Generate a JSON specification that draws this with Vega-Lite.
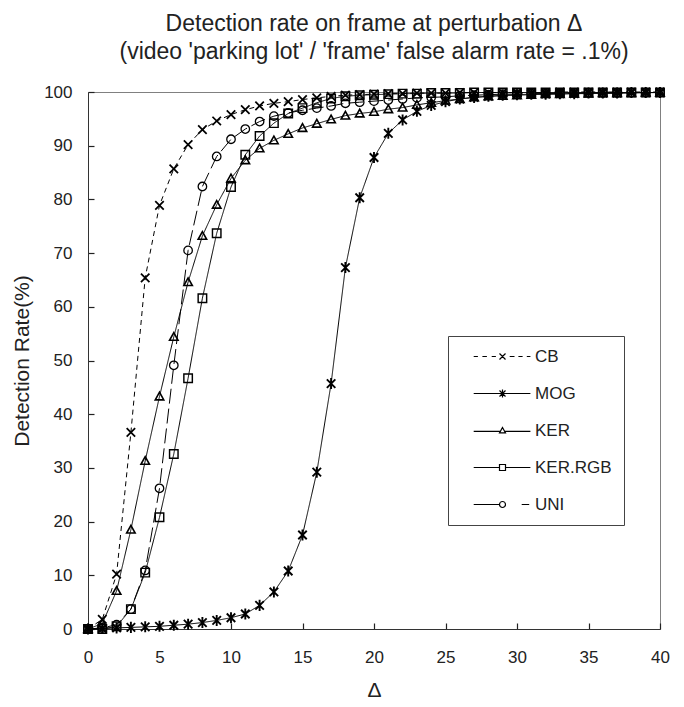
{
  "$schema": "https://vega.github.io/schema/vega-lite/v6.json",
  "width": 572,
  "height": 537,
  "autosize": {"type": "none"},
  "padding": {"left": 88, "top": 92, "right": 24, "bottom": 78},
  "background": "white",
  "config": {
    "font": "Liberation Sans",
    "view": {"stroke": "#808080", "strokeWidth": 1},
    "axis": {
      "labelFont": "Liberation Sans",
      "labelFontSize": 17,
      "labelColor": "#222",
      "labelFlush": false,
      "titleFont": "Liberation Sans",
      "titleFontWeight": "normal",
      "titleColor": "#222",
      "domainColor": "#333"
    }
  },
  "title": {
    "text": ["Detection rate on frame at perturbation Δ", "(video 'parking lot' / 'frame' false alarm rate = .1%)"],
    "font": "Liberation Sans",
    "fontSize": 23,
    "fontWeight": "normal",
    "color": "#222",
    "lineHeight": 28,
    "anchor": "middle",
    "offset": 19
  },
  "datasets": {
    "curves": [
      {"series":"CB","delta":0,"rate":0},{"series":"CB","delta":1,"rate":1.8},{"series":"CB","delta":2,"rate":10.2},{"series":"CB","delta":3,"rate":36.6},{"series":"CB","delta":4,"rate":65.4},{"series":"CB","delta":5,"rate":78.9},{"series":"CB","delta":6,"rate":85.7},{"series":"CB","delta":7,"rate":90.2},{"series":"CB","delta":8,"rate":93.0},{"series":"CB","delta":9,"rate":94.6},{"series":"CB","delta":10,"rate":95.8},{"series":"CB","delta":11,"rate":96.7},{"series":"CB","delta":12,"rate":97.4},{"series":"CB","delta":13,"rate":97.9},{"series":"CB","delta":14,"rate":98.2},{"series":"CB","delta":15,"rate":98.6},{"series":"CB","delta":16,"rate":98.9},{"series":"CB","delta":17,"rate":99.2},{"series":"CB","delta":18,"rate":99.4},{"series":"CB","delta":19,"rate":99.5},{"series":"CB","delta":20,"rate":99.6},{"series":"CB","delta":21,"rate":99.7},{"series":"CB","delta":22,"rate":99.7},{"series":"CB","delta":23,"rate":99.8},{"series":"CB","delta":24,"rate":99.8},{"series":"CB","delta":25,"rate":99.8},{"series":"CB","delta":26,"rate":99.9},{"series":"CB","delta":27,"rate":99.9},{"series":"CB","delta":28,"rate":99.9},{"series":"CB","delta":29,"rate":99.9},{"series":"CB","delta":30,"rate":99.9},{"series":"CB","delta":31,"rate":99.9},{"series":"CB","delta":32,"rate":99.9},{"series":"CB","delta":33,"rate":100},{"series":"CB","delta":34,"rate":100},{"series":"CB","delta":35,"rate":100},{"series":"CB","delta":36,"rate":100},{"series":"CB","delta":37,"rate":100},{"series":"CB","delta":38,"rate":100},{"series":"CB","delta":39,"rate":100},{"series":"CB","delta":40,"rate":100},
      {"series":"MOG","delta":0,"rate":0},{"series":"MOG","delta":1,"rate":0.1},{"series":"MOG","delta":2,"rate":0.2},{"series":"MOG","delta":3,"rate":0.3},{"series":"MOG","delta":4,"rate":0.4},{"series":"MOG","delta":5,"rate":0.5},{"series":"MOG","delta":6,"rate":0.7},{"series":"MOG","delta":7,"rate":0.9},{"series":"MOG","delta":8,"rate":1.2},{"series":"MOG","delta":9,"rate":1.6},{"series":"MOG","delta":10,"rate":2.1},{"series":"MOG","delta":11,"rate":2.8},{"series":"MOG","delta":12,"rate":4.4},{"series":"MOG","delta":13,"rate":6.9},{"series":"MOG","delta":14,"rate":10.8},{"series":"MOG","delta":15,"rate":17.5},{"series":"MOG","delta":16,"rate":29.2},{"series":"MOG","delta":17,"rate":45.7},{"series":"MOG","delta":18,"rate":67.3},{"series":"MOG","delta":19,"rate":80.3},{"series":"MOG","delta":20,"rate":87.8},{"series":"MOG","delta":21,"rate":92.3},{"series":"MOG","delta":22,"rate":94.8},{"series":"MOG","delta":23,"rate":96.4},{"series":"MOG","delta":24,"rate":97.5},{"series":"MOG","delta":25,"rate":98.2},{"series":"MOG","delta":26,"rate":98.7},{"series":"MOG","delta":27,"rate":99.0},{"series":"MOG","delta":28,"rate":99.2},{"series":"MOG","delta":29,"rate":99.4},{"series":"MOG","delta":30,"rate":99.5},{"series":"MOG","delta":31,"rate":99.6},{"series":"MOG","delta":32,"rate":99.6},{"series":"MOG","delta":33,"rate":99.7},{"series":"MOG","delta":34,"rate":99.7},{"series":"MOG","delta":35,"rate":99.8},{"series":"MOG","delta":36,"rate":99.8},{"series":"MOG","delta":37,"rate":99.8},{"series":"MOG","delta":38,"rate":99.9},{"series":"MOG","delta":39,"rate":99.9},{"series":"MOG","delta":40,"rate":99.9},
      {"series":"KER","delta":0,"rate":0},{"series":"KER","delta":1,"rate":1.0},{"series":"KER","delta":2,"rate":7.1},{"series":"KER","delta":3,"rate":18.5},{"series":"KER","delta":4,"rate":31.3},{"series":"KER","delta":5,"rate":43.3},{"series":"KER","delta":6,"rate":54.4},{"series":"KER","delta":7,"rate":64.6},{"series":"KER","delta":8,"rate":73.2},{"series":"KER","delta":9,"rate":79.0},{"series":"KER","delta":10,"rate":83.9},{"series":"KER","delta":11,"rate":87.3},{"series":"KER","delta":12,"rate":89.5},{"series":"KER","delta":13,"rate":91.0},{"series":"KER","delta":14,"rate":92.2},{"series":"KER","delta":15,"rate":93.3},{"series":"KER","delta":16,"rate":94.1},{"series":"KER","delta":17,"rate":94.9},{"series":"KER","delta":18,"rate":95.6},{"series":"KER","delta":19,"rate":96.0},{"series":"KER","delta":20,"rate":96.3},{"series":"KER","delta":21,"rate":96.8},{"series":"KER","delta":22,"rate":97.1},{"series":"KER","delta":23,"rate":97.6},{"series":"KER","delta":24,"rate":98.0},{"series":"KER","delta":25,"rate":98.4},{"series":"KER","delta":26,"rate":98.7},{"series":"KER","delta":27,"rate":99.0},{"series":"KER","delta":28,"rate":99.2},{"series":"KER","delta":29,"rate":99.3},{"series":"KER","delta":30,"rate":99.4},{"series":"KER","delta":31,"rate":99.5},{"series":"KER","delta":32,"rate":99.6},{"series":"KER","delta":33,"rate":99.6},{"series":"KER","delta":34,"rate":99.7},{"series":"KER","delta":35,"rate":99.7},{"series":"KER","delta":36,"rate":99.8},{"series":"KER","delta":37,"rate":99.8},{"series":"KER","delta":38,"rate":99.8},{"series":"KER","delta":39,"rate":99.9},{"series":"KER","delta":40,"rate":99.9},
      {"series":"KER.RGB","delta":0,"rate":0},{"series":"KER.RGB","delta":1,"rate":0},{"series":"KER.RGB","delta":2,"rate":0.5},{"series":"KER.RGB","delta":3,"rate":3.7},{"series":"KER.RGB","delta":4,"rate":10.5},{"series":"KER.RGB","delta":5,"rate":20.8},{"series":"KER.RGB","delta":6,"rate":32.6},{"series":"KER.RGB","delta":7,"rate":46.7},{"series":"KER.RGB","delta":8,"rate":61.6},{"series":"KER.RGB","delta":9,"rate":73.7},{"series":"KER.RGB","delta":10,"rate":82.3},{"series":"KER.RGB","delta":11,"rate":88.3},{"series":"KER.RGB","delta":12,"rate":91.8},{"series":"KER.RGB","delta":13,"rate":94.2},{"series":"KER.RGB","delta":14,"rate":96.0},{"series":"KER.RGB","delta":15,"rate":97.0},{"series":"KER.RGB","delta":16,"rate":98.0},{"series":"KER.RGB","delta":17,"rate":98.8},{"series":"KER.RGB","delta":18,"rate":99.2},{"series":"KER.RGB","delta":19,"rate":99.4},{"series":"KER.RGB","delta":20,"rate":99.5},{"series":"KER.RGB","delta":21,"rate":99.6},{"series":"KER.RGB","delta":22,"rate":99.7},{"series":"KER.RGB","delta":23,"rate":99.7},{"series":"KER.RGB","delta":24,"rate":99.8},{"series":"KER.RGB","delta":25,"rate":99.8},{"series":"KER.RGB","delta":26,"rate":99.8},{"series":"KER.RGB","delta":27,"rate":99.9},{"series":"KER.RGB","delta":28,"rate":99.9},{"series":"KER.RGB","delta":29,"rate":99.9},{"series":"KER.RGB","delta":30,"rate":99.9},{"series":"KER.RGB","delta":31,"rate":99.9},{"series":"KER.RGB","delta":32,"rate":99.9},{"series":"KER.RGB","delta":33,"rate":99.9},{"series":"KER.RGB","delta":34,"rate":99.9},{"series":"KER.RGB","delta":35,"rate":99.9},{"series":"KER.RGB","delta":36,"rate":99.9},{"series":"KER.RGB","delta":37,"rate":99.9},{"series":"KER.RGB","delta":38,"rate":99.9},{"series":"KER.RGB","delta":39,"rate":99.9},{"series":"KER.RGB","delta":40,"rate":99.9},
      {"series":"UNI","delta":0,"rate":0},{"series":"UNI","delta":1,"rate":0.2},{"series":"UNI","delta":2,"rate":0.8},{"series":"UNI","delta":3,"rate":3.7},{"series":"UNI","delta":4,"rate":10.9},{"series":"UNI","delta":5,"rate":26.2},{"series":"UNI","delta":6,"rate":49.1},{"series":"UNI","delta":7,"rate":70.5},{"series":"UNI","delta":8,"rate":82.4},{"series":"UNI","delta":9,"rate":88.0},{"series":"UNI","delta":10,"rate":91.2},{"series":"UNI","delta":11,"rate":93.1},{"series":"UNI","delta":12,"rate":94.5},{"series":"UNI","delta":13,"rate":95.5},{"series":"UNI","delta":14,"rate":96.1},{"series":"UNI","delta":15,"rate":96.6},{"series":"UNI","delta":16,"rate":97.0},{"series":"UNI","delta":17,"rate":97.4},{"series":"UNI","delta":18,"rate":97.9},{"series":"UNI","delta":19,"rate":98.1},{"series":"UNI","delta":20,"rate":98.3},{"series":"UNI","delta":21,"rate":98.5},{"series":"UNI","delta":22,"rate":98.7},{"series":"UNI","delta":23,"rate":98.9},{"series":"UNI","delta":24,"rate":99.0},{"series":"UNI","delta":25,"rate":99.1},{"series":"UNI","delta":26,"rate":99.3},{"series":"UNI","delta":27,"rate":99.4},{"series":"UNI","delta":28,"rate":99.5},{"series":"UNI","delta":29,"rate":99.6},{"series":"UNI","delta":30,"rate":99.6},{"series":"UNI","delta":31,"rate":99.7},{"series":"UNI","delta":32,"rate":99.7},{"series":"UNI","delta":33,"rate":99.7},{"series":"UNI","delta":34,"rate":99.8},{"series":"UNI","delta":35,"rate":99.8},{"series":"UNI","delta":36,"rate":99.8},{"series":"UNI","delta":37,"rate":99.8},{"series":"UNI","delta":38,"rate":99.9},{"series":"UNI","delta":39,"rate":99.9},{"series":"UNI","delta":40,"rate":99.9}
    ]
  },
  "data": {"name": "curves"},
  "encoding": {
    "x": {
      "field": "delta", "type": "quantitative",
      "scale": {"domain": [0, 40], "nice": false, "zero": false},
      "axis": {
        "values": [0,5,10,15,20,25,30,35,40], "title": "Δ", "titleFontSize": 21, "titlePadding": 14, "labelPadding": 20,
        "ticks": false,
        "grid": true, "gridDash": [0, 531, 6, 2000], "gridColor": "#222", "gridWidth": 1.2, "gridOpacity": 1
      }
    },
    "y": {
      "field": "rate", "type": "quantitative",
      "scale": {"domain": [0, 100], "nice": false},
      "axis": {
        "values": [0,10,20,30,40,50,60,70,80,90,100], "title": "Detection Rate(%)", "titleFontSize": 21, "titlePadding": 11, "labelPadding": 22,
        "grid": false,
        "ticks": true, "tickSize": -6, "tickColor": "#222", "tickWidth": 1.2
      }
    }
  },
  "layer": [
    {
      "mark": {"type": "line", "color": "black", "strokeWidth": 1},
      "encoding": {
        "detail": {"field": "series"},
        "strokeDash": {
          "field": "series", "type": "nominal",
          "scale": {"domain": ["UNI","CB","MOG","KER","KER.RGB"], "range": [[15,5],[5,4],[1,0],[1,0],[1,0]]},
          "legend": null
        }
      }
    },
    {
      "mark": {
        "type": "point", "filled": false, "color": "black", "size": 72,
        "shape": {"expr": "datum.value === 'CB' ? 'M-9.6,0H-8.2M-6.7,0H-5.2M-3.6,0H-2.2M-1,-1L1,1M-1,1L1,-1M2.4,0H4M5.3,0H6.7M8.1,0H9.3' : datum.value === 'MOG' ? 'M-9.6,0H9.3M-1,-1L1,1M-1,1L1,-1M0,-1.3L0,1.3' : datum.value === 'KER' ? 'M-9.6,0.3H-0.7M0.7,0.3H9.3M0,-1L1,0.8L-1,0.8Z' : datum.value === 'KER.RGB' ? 'M-9.6,0H-1M1,0H9.3M-1,-1H1V1H-1Z' : 'M-9.6,0H-1M6.4,0H8.9M-1,0A1,1,0,1,1,1,0A1,1,0,1,1,-1,0Z'"}
      },
      "encoding": {
        "strokeWidth": {
          "field": "series", "type": "nominal",
          "scale": {"domain": ["MOG","CB","KER","KER.RGB","UNI"], "range": [1.9,1.3,1.3,1.3,1.3]},
          "legend": null
        },
        "shape": {
          "field": "series", "type": "nominal",
          "scale": {
            "domain": ["KER","CB","MOG","KER.RGB","UNI"],
            "range": [
              "M0,-1L1,0.8L-1,0.8Z",
              "M-1,-1L1,1M-1,1L1,-1",
              "M-1,-1L1,1M-1,1L1,-1M0,-1.3L0,1.3",
              "M-1,-1H1V1H-1Z",
              "M-1,0A1,1,0,1,1,1,0A1,1,0,1,1,-1,0Z"
            ]
          },
          "legend": null
        },
        "opacity": {
          "field": "series", "type": "nominal",
          "scale": {"domain": ["CB","MOG","KER","KER.RGB","UNI"], "range": [1,1,1,1,1]},
          "legend": {
            "title": null,
            "orient": "none",
            "legendX": 360,
            "legendY": 244,
            "padding": 12,
            "rowPadding": 19,
            "strokeColor": "#444",
            "fillColor": "white",
            "symbolSize": 36,
            "symbolStrokeWidth": 1.2,
            "symbolStrokeColor": "black",
            "symbolFillColor": "transparent",
            "symbolOffset": 34,
            "labelOffset": 24,
            "labelFont": "Liberation Sans",
            "labelFontSize": 17,
            "labelColor": "#222",
            "labelExpr": "datum.label + '\u00a0\u00a0'"
          }
        }
      }
    }
  ]
}
